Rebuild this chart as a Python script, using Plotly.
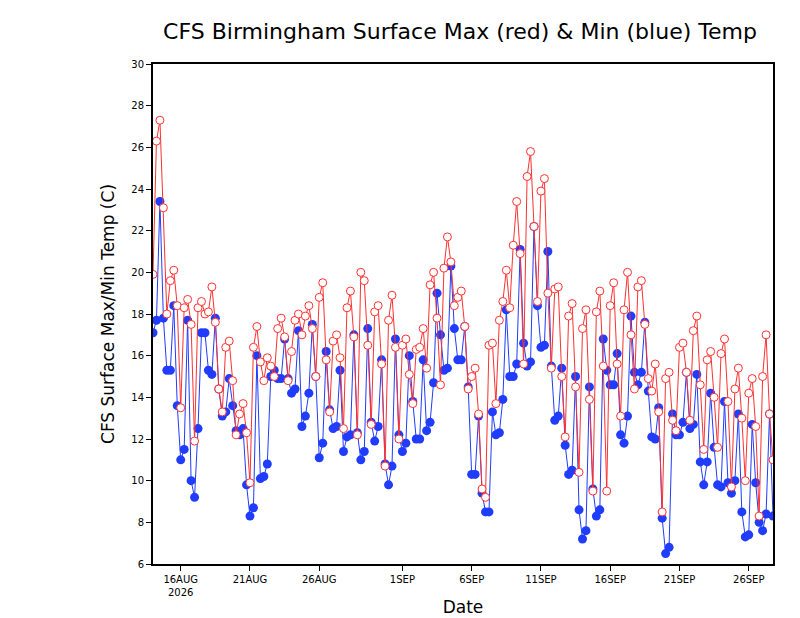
import pandas as pd
import plotly.graph_objects as go

# 6-hourly values starting 14 Aug 2026 00Z, four per day
max_temp = [
    19.9, 26.3, 27.3, 23.1, 18.0, 19.6, 20.1, 18.4, 13.5, 18.3, 18.7, 17.5,
    11.9, 18.3, 18.6, 18.0, 18.1, 19.3, 17.6, 14.4, 13.3, 16.4, 16.7, 14.8,
    12.2, 13.2, 13.7, 12.3, 9.9, 16.4, 17.4, 15.7, 14.8, 15.9, 15.5, 15.0,
    17.3, 17.8, 16.9, 14.8, 16.2, 17.7, 18.0, 17.0, 17.9, 18.4, 17.3, 15.0,
    18.8, 19.5, 15.8, 13.3, 16.7, 17.0, 15.9, 12.5, 18.3, 19.1, 16.9, 12.2,
    20.0, 19.6, 16.5, 12.7, 18.1, 18.4, 15.6, 10.7, 17.7, 18.9, 16.4, 12.0,
    16.5, 16.8, 15.1, 13.7, 16.3, 16.4, 17.3, 15.4, 19.4, 20.0, 17.8, 14.6,
    20.2, 21.7, 20.5, 18.4, 18.8, 19.1, 17.4, 14.4, 15.0, 15.4, 13.2, 9.6,
    9.2, 16.5, 16.6, 13.7, 17.7, 18.6, 20.1, 18.3, 21.3, 23.4, 20.9, 15.6,
    24.6, 25.8, 22.2, 18.6, 23.9, 24.5, 19.0, 15.4, 19.2, 19.3, 15.0, 12.1,
    17.9, 18.5, 14.5, 10.4, 17.3, 18.2, 13.9, 9.5, 18.1, 19.1, 15.5, 9.5,
    18.4, 19.5, 15.6, 13.1, 18.2, 20.0, 17.0, 14.4, 19.3, 19.6, 17.5, 14.9,
    14.3, 15.6, 13.3, 8.5, 14.9, 15.2, 12.9, 12.4, 16.4, 16.6, 15.2, 12.9,
    17.2, 17.9, 14.6, 11.5, 15.8, 16.2, 14.0, 11.6, 16.1, 16.8, 13.8, 9.7,
    14.4, 15.4, 13.0, 10.0, 14.2, 14.9, 12.6, 8.3, 15.0, 17.0, 13.2, 11.0,
]
min_temp = [
    17.1, 17.7, 23.4, 17.8, 15.3, 15.3, 18.4, 13.6, 11.0, 11.5, 17.7, 10.0,
    9.2, 12.5, 17.1, 17.1, 15.3, 15.1, 17.8, 14.4, 13.1, 13.3, 14.9, 13.6,
    12.4, 12.2, 12.5, 9.8, 8.3, 8.7, 16.0, 10.1, 10.2, 10.8, 15.0, 15.3,
    14.9, 14.9, 16.8, 14.9, 14.2, 14.4, 17.2, 12.6, 13.1, 14.2, 17.5, 15.0,
    11.1, 11.8, 16.2, 13.4, 12.5, 12.6, 15.3, 11.4, 12.1, 12.2, 17.0, 12.3,
    11.0, 11.4, 17.3, 12.8, 11.9, 12.6, 15.8, 10.8, 9.8, 10.7, 16.8, 12.2,
    11.4, 11.8, 16.0, 13.8, 12.0, 12.0, 15.8, 12.4, 12.8, 14.7, 19.0, 17.0,
    15.3, 15.4, 20.3, 17.3, 15.8, 15.8, 17.4, 14.5, 10.3, 10.3, 13.1, 9.4,
    8.5, 8.5, 13.3, 12.2, 12.3, 13.9, 18.2, 15.0, 15.0, 15.6, 21.1, 16.6,
    15.5, 15.7, 22.2, 18.4, 16.4, 16.5, 21.0, 15.5, 12.9, 13.1, 15.4, 11.7,
    10.3, 10.5, 15.0, 8.6, 7.2, 7.6, 14.5, 9.6, 8.3, 8.6, 16.8, 15.3,
    14.6, 14.6, 16.1, 12.2, 11.8, 13.1, 17.9, 15.2, 14.6, 15.2, 17.6, 14.3,
    12.1, 12.0, 13.5, 8.2, 6.5, 6.8, 13.2, 12.2, 12.2, 12.8, 15.2, 12.5,
    12.7, 15.1, 10.9, 9.8, 10.9, 14.2, 11.6, 9.8, 9.7, 13.8, 9.9, 9.4,
    10.0, 13.2, 8.5, 7.3, 7.4, 12.7, 9.9, 8.0, 7.6, 8.4, 13.2, 8.3,
]
times = pd.date_range("2026-08-14 00:00", periods=len(max_temp), freq="6h")

tick_dates = ["2026-08-16", "2026-08-21", "2026-08-26", "2026-09-01",
              "2026-09-06", "2026-09-11", "2026-09-16", "2026-09-21", "2026-09-26"]
tick_labels = ["16AUG<br>2026", "21AUG", "26AUG", "1SEP", "6SEP",
               "11SEP", "16SEP", "21SEP", "26SEP"]

fig = go.Figure()
fig.add_trace(go.Scatter(
    x=times, y=min_temp, mode='lines+markers',
    line=dict(color='#1f3cff', width=1),
    marker=dict(color='#1f3cff', size=9, symbol='circle')))
fig.add_trace(go.Scatter(
    x=times, y=max_temp, mode='lines+markers',
    line=dict(color='#ff3030', width=1),
    marker=dict(color='white', size=8, symbol='circle',
                line=dict(color='#ff3030', width=1))))

axis_style = dict(showline=True, linecolor='black', linewidth=2, mirror=True,
                  showgrid=False, zeroline=False, ticks='outside', ticklen=5,
                  tickcolor='black', tickfont=dict(family='DejaVu Sans', size=10, color='black'))
fig.update_layout(
    width=800, height=618,
    margin=dict(l=145, r=35, t=56, b=53),
    plot_bgcolor='white', paper_bgcolor='white',
    showlegend=False,
    title=dict(text='CFS Birmingham Surface Max (red) & Min (blue) Temp',
               x=0.565, xanchor='center', y=0.975, yanchor='top',
               font=dict(family='DejaVu Sans', size=22, color='black')),
    xaxis=dict(axis_style, range=[times[0], times[-1]],
               tickvals=tick_dates, ticktext=tick_labels,
               title=dict(text='Date', font=dict(family='DejaVu Sans', size=17, color='black'),
                          standoff=4)),
    yaxis=dict(axis_style, range=[6, 30], dtick=2,
               title=dict(text='CFS Surface Max/Min Temp (C)',
                          font=dict(family='DejaVu Sans', size=17, color='black'),
                          standoff=12)),
)
fig.write_html("out.html")
